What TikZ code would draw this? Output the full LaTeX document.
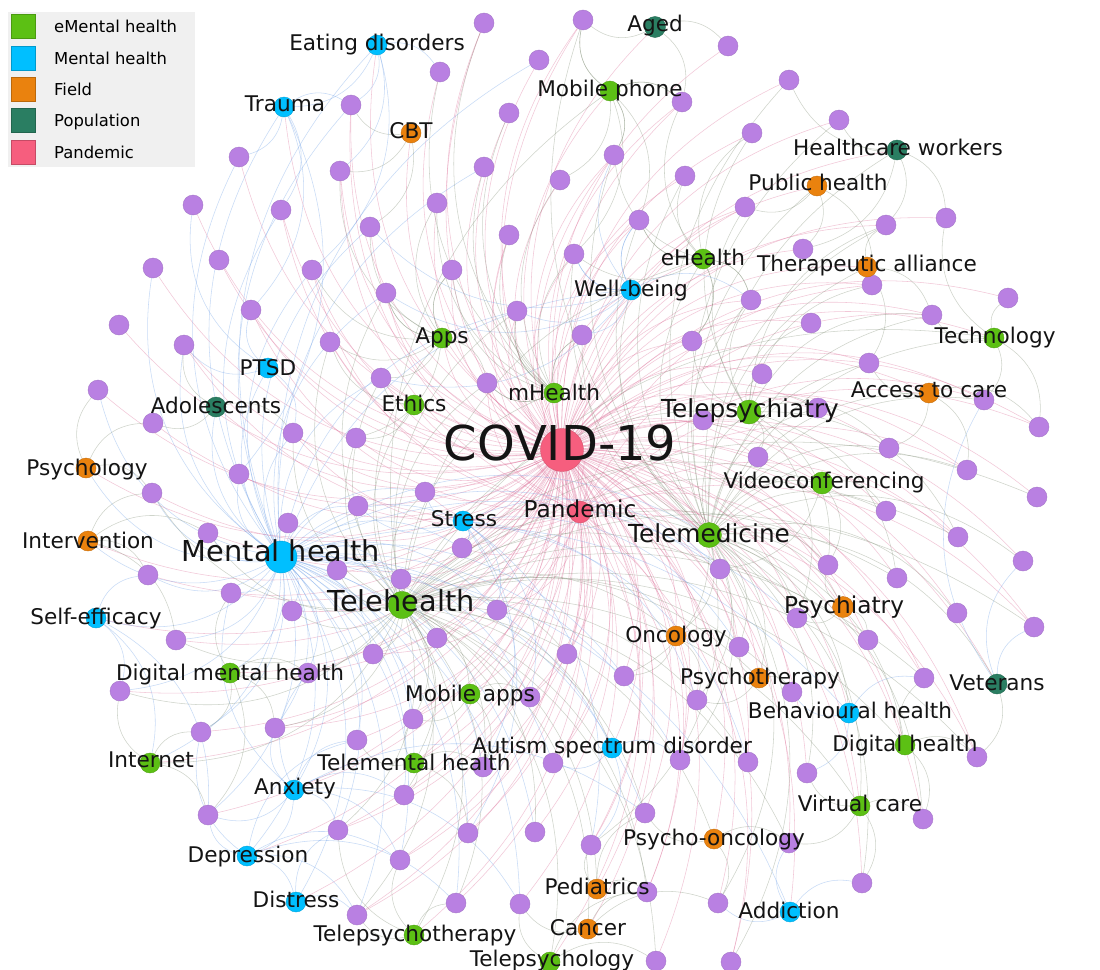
\documentclass[tikz,border=0pt]{standalone}
\usepackage{fontspec}
\setmainfont{DejaVu Sans}
\usetikzlibrary{calc}
\pgfdeclarelayer{paper}
\pgfdeclarelayer{edges}
\pgfsetlayers{paper,edges,main}

\definecolor{purp}{RGB}{185,128,226}
\definecolor{purpd}{RGB}{165,118,200}
\definecolor{emh}{RGB}{92,192,20}
\definecolor{mh}{RGB}{0,191,255}
\definecolor{fld}{RGB}{234,130,14}
\definecolor{pop}{RGB}{42,126,98}
\definecolor{pan}{RGB}{246,94,126}
\definecolor{epink}{RGB}{222,110,152}
\definecolor{eblue}{RGB}{110,160,232}
\definecolor{egrey}{RGB}{128,142,118}
\definecolor{legbg}{RGB}{240,240,240}

\tikzset{
  pnode/.style={circle, fill=purp, draw=purpd, line width=0.4pt, minimum size=20pt, inner sep=0pt},
  cn/.style={circle, fill=#1, draw=#1!85!black, line width=0.4pt, minimum size=20pt, inner sep=0pt},
  lbl/.style={anchor=base, inner sep=0pt, text=black!92, font=\fontsize{21.6}{26}\selectfont},
  lblm/.style={lbl, font=\fontsize{23.2}{28}\selectfont},
  lblb/.style={lbl, font=\fontsize{24.8}{30}\selectfont},
  lblh/.style={lbl, font=\fontsize{28.8}{34}\selectfont},
  lblc/.style={lbl, font=\fontsize{48}{56}\selectfont},
  edge/.style={line width=0.55pt, opacity=0.38, bend left=32},
  epk/.style={edge, draw=epink},
  ebl/.style={edge, draw=eblue},
  egr/.style={edge, draw=egrey},
  swatch/.style={minimum size=24pt, inner sep=0pt, draw=#1!80!black, line width=0.3pt, fill=#1},
  legtxt/.style={anchor=base west, inner sep=0pt, font=\fontsize{16.4}{20}\selectfont}
}

\begin{document}
\begin{tikzpicture}[x=1pt,y=-1pt]
\useasboundingbox (0,0) rectangle (1100,969);
\begin{pgfonlayer}{paper}
  \fill[white] (0,0) rectangle (1100,969);
\end{pgfonlayer}

% ---------- keyword nodes without category ----------
\foreach \x/\y [count=\i] in {
  484/23, 539/60, 440/72, 351/105, 509/113, 239/157, 340/171, 484/167, 193/205, 281/210,
  437/203, 370/227, 509/235, 153/268, 219/260, 312/270, 452/270, 386/293, 251/310, 517/311,
  119/325, 184/345, 330/342, 381/378, 487/383, 98/390, 153/423, 293/433, 356/438, 239/474,
  583/20, 728/46, 789/80, 682/102, 839/120, 752/133, 614/155, 560/180, 685/176, 745/207,
  886/225, 946/218, 639/220, 803/249, 574/254, 872/285, 751/300, 1008/298, 932/315, 811/323,
  582/335, 692/341, 869/363, 762/374, 984/400, 703/420, 818/408, 1039/427, 889/448, 758/457,
  967/470,
  152/493, 358/506, 425/492, 288/523, 208/533, 462/548, 337/570, 148/575, 401/579, 231/593,
  292/611, 497/610, 176/640, 437/638, 373/654, 308/673, 120/691, 530/697, 413/719, 201/732,
  275/728, 357/740, 483/767, 553/763, 404/795, 208/815, 338/830, 468/833, 535/832, 400/860,
  456/903, 520/904, 357/915,
  1037/497, 886/511, 958/537, 1023/561, 720/569, 828/565, 897/578, 957/613, 1034/627, 797/618,
  868/640, 739/647, 567/654, 624/676, 924/678, 697/700, 792/692, 680/760, 748/762, 807/773,
  977/757, 923/819, 645/813, 591/845, 789/843, 862/883, 647/892, 718/903, 656/961, 731/962}
  \node[pnode] (p\i) at (\x,\y) {};

% ---------- categorised nodes ----------
% Mental health
\node[cn=mh] (eat) at (377,45) {};
\node[cn=mh] (trauma) at (284,107) {};
\node[cn=mh] (wellb) at (631,290) {};
\node[cn=mh] (ptsd) at (268,368) {};
\node[cn=mh] (stress) at (463,521) {};
\node[cn=mh, minimum size=32pt] (mental) at (281,557) {};
\node[cn=mh] (selfeff) at (96,618) {};
\node[cn=mh] (autism) at (612,748) {};
\node[cn=mh] (behav) at (849,713) {};
\node[cn=mh] (anxiety) at (294,790) {};
\node[cn=mh] (dep) at (247,856) {};
\node[cn=mh] (distress) at (296,902) {};
\node[cn=mh] (addiction) at (790,912) {};
% eMental health
\node[cn=emh] (mphone) at (610,91) {};
\node[cn=emh] (ehealth) at (703,259) {};
\node[cn=emh] (tech) at (994,338) {};
\node[cn=emh] (apps) at (442,338) {};
\node[cn=emh] (ethics) at (414,405) {};
\node[cn=emh] (mhealth) at (554,393) {};
\node[cn=emh, minimum size=24pt] (tpsychiatry) at (749,412) {};
\node[cn=emh, minimum size=22pt] (video) at (822,483) {};
\node[cn=emh, minimum size=25pt] (tmed) at (709,535) {};
\node[cn=emh, minimum size=27pt] (thealth) at (402,605) {};
\node[cn=emh] (dmh) at (230,673) {};
\node[cn=emh] (mapps) at (470,694) {};
\node[cn=emh] (internet) at (150,763) {};
\node[cn=emh] (tmh) at (414,763) {};
\node[cn=emh] (dhealth) at (905,745) {};
\node[cn=emh] (virtual) at (860,806) {};
\node[cn=emh] (tpsyther) at (414,935) {};
\node[cn=emh] (tpsychology) at (550,962) {};
% Field
\node[cn=fld] (cbt) at (411,133) {};
\node[cn=fld] (pubh) at (817,186) {};
\node[cn=fld] (ther) at (867,267) {};
\node[cn=fld] (access) at (929,393) {};
\node[cn=fld] (psychology) at (86,468) {};
\node[cn=fld] (interv) at (88,541) {};
\node[cn=fld, minimum size=21pt] (psychiatry) at (843,607) {};
\node[cn=fld] (onc) at (676,636) {};
\node[cn=fld] (psyther) at (759,678) {};
\node[cn=fld] (psyonc) at (714,839) {};
\node[cn=fld] (pediatrics) at (597,889) {};
\node[cn=fld] (cancer) at (588,929) {};
% Population
\node[cn=pop, minimum size=21pt] (aged) at (655,27) {};
\node[cn=pop] (hcw) at (897,150) {};
\node[cn=pop] (adol) at (216,407) {};
\node[cn=pop] (veterans) at (997,684) {};
% Pandemic
\node[cn=pan, minimum size=43pt] (covid) at (562,450) {};
\node[cn=pan, minimum size=22pt] (pandemic) at (580,512) {};

% ---------- connections ----------
\begin{pgfonlayer}{edges}
  % COVID-19 hub
  \foreach \i in {1,...,124} \draw[epk] (covid) to (p\i);
  \foreach \n in {eat,trauma,cbt,apps,ptsd,adol,ethics,psychology,aged,mphone,hcw,pubh,
      ehealth,ther,wellb,tech,access,tpsychiatry,mhealth,pandemic,video,tmed,stress,mental,
      thealth,interv,selfeff,dmh,mapps,internet,tmh,anxiety,dep,distress,tpsyther,tpsychology,
      autism,psychiatry,onc,psyther,veterans,behav,dhealth,virtual,psyonc,pediatrics,addiction,cancer}
    \draw[epk] (covid) to (\n);
  % Pandemic
  \foreach \i in {1,4,...,124} \draw[epk] (pandemic) to (p\i);
  % Mental health hub
  \foreach \i in {2,4,6,...,30} \draw[ebl] (mental) to (p\i);
  \foreach \i in {62,...,94} \draw[ebl] (mental) to (p\i);
  \foreach \i in {99,104,108,112,117} \draw[ebl] (mental) to (p\i);
  \foreach \n in {eat,trauma,ptsd,stress,selfeff,anxiety,dep,distress,autism,behav,wellb,
      addiction,interv,psychology,adol,dmh,internet,thealth,tmh,tmed}
    \draw[ebl] (mental) to (\n);
  % smaller mental-health hubs
  \foreach \i in {63,67,73,79,84,89,99,106,110,113,118} \draw[ebl] (stress) to (p\i);
  \foreach \i in {71,77,83,86,91,93,117} \draw[ebl] (anxiety) to (p\i);
  \foreach \i in {81,83,91,92,94} \draw[ebl] (dep) to (p\i);
  \foreach \i in {12,18,20,24,37,43,45,47} \draw[ebl] (wellb) to (p\i);
  % Telehealth hub
  \foreach \i in {62,64,...,94} \draw[egr] (thealth) to (p\i);
  \foreach \i in {95,97,...,124} \draw[egr] (thealth) to (p\i);
  \foreach \i in {18,20,23,24,25,28,29} \draw[egr] (thealth) to (p\i);
  \foreach \n in {mapps,tmh,dmh,internet,tpsyther,tpsychology,tmed,video,tpsychiatry,mhealth,
      apps,ethics,ehealth,dhealth,virtual,mphone,tech,psyonc,onc,psyther,pediatrics,cancer,autism}
    \draw[egr] (thealth) to (\n);
  % Telemedicine hub
  \foreach \i in {31,33,...,61} \draw[egr] (tmed) to (p\i);
  \foreach \i in {96,98,...,124} \draw[egr] (tmed) to (p\i);
  \foreach \n in {tpsychiatry,video,psychiatry,onc,psyther,behav,dhealth,virtual,access,ther,
      tech,veterans,pubh,hcw,ehealth,wellb}
    \draw[egr] (tmed) to (\n);
  % Telepsychiatry and mHealth
  \foreach \i in {36,40,47,50,52,54,56,57,60,100,104,41,46,49,59,97,101}
    \draw[egr] (tpsychiatry) to (p\i);
  \foreach \i in {5,8,11,13,17,20,25,38,45,51,3,1} \draw[egr] (mhealth) to (p\i);
  \foreach \i in {7,11,12,16,17,18,23,29} \draw[egr] (apps) to (p\i);
  \foreach \i in {34,37,39,43,45,47,52,36} \draw[egr] (ehealth) to (p\i);
  \foreach \i in {31,34,37,38,43,45} \draw[egr] (mphone) to (p\i);
  % local links of the mental-health terms
  \foreach \a/\b in {eat/p3,eat/p4,eat/p7,eat/trauma,trauma/p6,trauma/p4,trauma/p10,trauma/p19,
      ptsd/p19,ptsd/p28,ptsd/p22,selfeff/p69,selfeff/p78,selfeff/internet,anxiety/p82,
      anxiety/p87,anxiety/dep,anxiety/p88,dep/p87,dep/distress,distress/p94,distress/p88,
      addiction/p119,addiction/p122,addiction/p120,behav/p111,behav/p114,behav/p109,
      autism/p112,autism/p118,autism/p85,wellb/p43,wellb/p45,wellb/p51,stress/p67,stress/p64,
      veterans/p55,veterans/p98,veterans/p103,trauma/p30,eat/p16,ptsd/p9,selfeff/p87}
    \draw[ebl] (\a) to (\b);
  % local links of the other terms
  \foreach \a/\b in {veterans/p115,tech/p48,tech/p49,tech/p55,tech/p58,access/p53,access/p61,
      access/p59,aged/p31,aged/p32,aged/p34,hcw/p35,hcw/p41,hcw/p44,hcw/p33,pubh/p40,pubh/p44,
      pubh/p46,ther/p41,ther/p46,ther/p53,ther/p49,ehealth/p43,ehealth/p47,ehealth/p52,
      mphone/p31,mphone/p37,mphone/p34,cbt/p4,cbt/p7,cbt/p12,apps/p17,apps/p18,apps/p24,
      apps/p25,ethics/p24,ethics/p29,ethics/p23,adol/p27,adol/p28,adol/p22,psychology/p26,
      psychology/p27,psychology/p62,interv/p62,interv/p69,interv/p66,dmh/p77,dmh/p81,dmh/p82,
      dmh/p71,internet/p78,internet/p81,internet/p87,tmh/p83,tmh/p86,tmh/p84,tmh/p80,
      mapps/p79,mapps/p80,mapps/p84,tpsyther/p94,tpsyther/p91,tpsyther/p92,tpsychology/p93,
      tpsychology/p123,tpsychology/p121,cancer/p121,cancer/p122,cancer/p93,pediatrics/p117,
      pediatrics/p118,pediatrics/p121,psyonc/p117,psyonc/p119,psyonc/p122,virtual/p116,
      virtual/p119,virtual/p120,virtual/p114,dhealth/p115,dhealth/p116,dhealth/p109,
      psyther/p110,psyther/p106,psyther/p111,onc/p106,onc/p108,onc/p110,psychiatry/p104,
      psychiatry/p105,psychiatry/p100,video/p96,video/p100,video/p99,mhealth/p25,mhealth/p20,
      mhealth/p51,tech/p42,access/p58,hcw/p42,interv/p74,dmh/p87,tmh/p89,tpsyther/p88}
    \draw[egr] (\a) to (\b);
\end{pgfonlayer}

% ---------- labels ----------
\node[lbl] (eat-t) at ([shift={(0,5)}]eat) {Eating disorders};
\node[lbl] (trauma-t) at ([shift={(1,4)}]trauma) {Trauma};
\node[lbl] (cbt-t) at ([shift={(0,5)}]cbt) {CBT};
\node[lbl] (apps-t) at ([shift={(0,5)}]apps) {Apps};
\node[lbl] (ptsd-t) at ([shift={(0,7)}]ptsd) {PTSD};
\node[lbl] (adol-t) at ([shift={(0,6)}]adol) {Adolescents};
\node[lbl] (ethics-t) at ([shift={(0,6)}]ethics) {Ethics};
\node[lbl] (psychology-t) at ([shift={(1,7)}]psychology) {Psychology};
\node[lbl] (aged-t) at ([shift={(0,4)}]aged) {Aged};
\node[lbl] (mphone-t) at ([shift={(0,5)}]mphone) {Mobile phone};
\node[lbl] (hcw-t) at ([shift={(1,5)}]hcw) {Healthcare workers};
\node[lbl] (pubh-t) at ([shift={(1,4)}]pubh) {Public health};
\node[lbl] (ehealth-t) at ([shift={(0,6)}]ehealth) {eHealth};
\node[lbl] (ther-t) at ([shift={(0,4)}]ther) {Therapeutic alliance};
\node[lbl] (wellb-t) at ([shift={(0,6)}]wellb) {Well-being};
\node[lbl] (tech-t) at ([shift={(1,5)}]tech) {Technology};
\node[lbl] (access-t) at ([shift={(0,4)}]access) {Access to care};
\node[lblb] (tpsychiatry-t) at ([shift={(1,5)}]tpsychiatry) {Telepsychiatry};
\node[lbl] (mhealth-t) at ([shift={(0,7)}]mhealth) {mHealth};
\node[lblc] (covid-t) at ([shift={(-2,10.5)}]covid) {COVID-19};
\node[lblm] (pandemic-t) at ([shift={(0,5.5)}]pandemic) {Pandemic};
\node[lbl] (video-t) at ([shift={(2,5)}]video) {Videoconferencing};
\node[lblb] (tmed-t) at ([shift={(0,7)}]tmed) {Telemedicine};
\node[lbl] (stress-t) at ([shift={(1,5)}]stress) {Stress};
\node[lblh] (mental-t) at ([shift={(0,4.6)}]mental) {Mental health};
\node[lblh] (thealth-t) at ([shift={(-1,6.4)}]thealth) {Telehealth};
\node[lbl] (interv-t) at ([shift={(0,7)}]interv) {Intervention};
\node[lbl] (selfeff-t) at ([shift={(0,6)}]selfeff) {Self-efficacy};
\node[lbl] (dmh-t) at ([shift={(0,7)}]dmh) {Digital mental health};
\node[lbl] (mapps-t) at ([shift={(0,7)}]mapps) {Mobile apps};
\node[lbl] (internet-t) at ([shift={(1,4)}]internet) {Internet};
\node[lbl] (tmh-t) at ([shift={(0,7)}]tmh) {Telemental health};
\node[lbl] (anxiety-t) at ([shift={(1,4)}]anxiety) {Anxiety};
\node[lbl] (dep-t) at ([shift={(1,6)}]dep) {Depression};
\node[lbl] (distress-t) at ([shift={(0,5)}]distress) {Distress};
\node[lbl] (tpsyther-t) at ([shift={(1,6)}]tpsyther) {Telepsychotherapy};
\node[lbl] (tpsychology-t) at ([shift={(2,4)}]tpsychology) {Telepsychology};
\node[lbl] (autism-t) at ([shift={(0,5)}]autism) {Autism spectrum disorder};
\node[lblm] (psychiatry-t) at ([shift={(1,6)}]psychiatry) {Psychiatry};
\node[lbl] (onc-t) at ([shift={(0,6)}]onc) {Oncology};
\node[lbl] (psyther-t) at ([shift={(1,6)}]psyther) {Psychotherapy};
\node[lbl] (veterans-t) at ([shift={(0,6)}]veterans) {Veterans};
\node[lbl] (behav-t) at ([shift={(1,5)}]behav) {Behavioural health};
\node[lbl] (dhealth-t) at ([shift={(0,6)}]dhealth) {Digital health};
\node[lbl] (virtual-t) at ([shift={(0,5)}]virtual) {Virtual care};
\node[lbl] (psyonc-t) at ([shift={(0,6)}]psyonc) {Psycho-oncology};
\node[lbl] (pediatrics-t) at ([shift={(0,5)}]pediatrics) {Pediatrics};
\node[lbl] (addiction-t) at ([shift={(-1,6)}]addiction) {Addiction};
\node[lbl] (cancer-t) at ([shift={(0,6)}]cancer) {Cancer};

% ---------- legend ----------
\node[fill=legbg, inner sep=0pt, minimum width=187pt, minimum height=155pt, anchor=north west] (leg) at (8,12) {};
\node[swatch=emh] (sw1) at (23.5,26) {};
\node[swatch=mh]  (sw2) at (23.5,58) {};
\node[swatch=fld] (sw3) at (23.5,89) {};
\node[swatch=pop] (sw4) at (23.5,120) {};
\node[swatch=pan] (sw5) at (23.5,152) {};
\node[legtxt] (lt1) at (54,32) {eMental health};
\node[legtxt] (lt2) at (54,64) {Mental health};
\node[legtxt] (lt3) at (54,95) {Field};
\node[legtxt] (lt4) at (54,126) {Population};
\node[legtxt] (lt5) at (54,158) {Pandemic};
\end{tikzpicture}
\end{document}
